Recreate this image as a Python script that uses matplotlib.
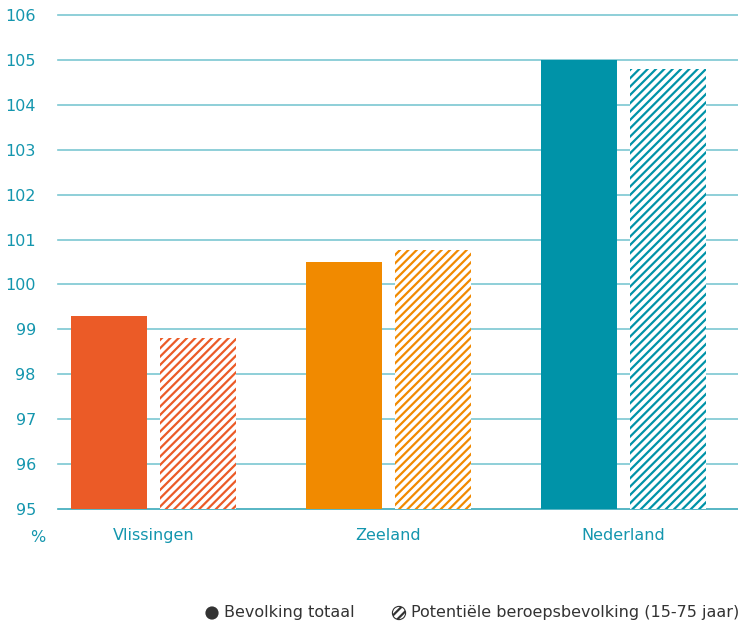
import matplotlib
matplotlib.use("Agg")
import matplotlib.pyplot as plt
from matplotlib.patches import Circle
import numpy as np

categories = ["Vlissingen", "Zeeland", "Nederland"]
bevolking_totaal = [99.3, 100.5, 105.0]
beroepsbevolking = [98.8, 100.77, 104.8]
colors = ["#EB5B27", "#F18A00", "#0093A8"]
yticks = [95, 96, 97, 98, 99, 100, 101, 102, 103, 104, 105, 106]
legend_labels = ["Bevolking totaal", "Potentiële beroepsbevolking (15-75 jaar)"]

W, H = 738, 627
plt.rcParams['hatch.linewidth'] = 1.6
plt.rcParams['font.family'] = ['DejaVu Sans']

fig = plt.figure(figsize=(W / 100, H / 100), dpi=100)
ax = fig.add_axes([58 / W, (H - 509) / H, 1 - 58 / W, (509 - 15) / H])
ax.set_axisbelow(True)

teal_text = "#1496AE"
grid_col = "#7CC7D2"

x = np.arange(len(categories))
bw = 76 / 235
off = 44.5 / 235
ax.bar(x - off, np.array(bevolking_totaal) - 95, bw, bottom=95, color=colors, linewidth=0, zorder=5)
ax.bar(x + off, np.array(beroepsbevolking) - 95, bw, bottom=95, color="white", edgecolor=colors,
       hatch="////", linewidth=0, zorder=5)

ax.set_xlim((58 - 153.5) / 235, (738 - 153.5) / 235)
ax.set_ylim(95, 106)
ax.set_yticks(yticks)
for t in yticks:
    ax.axhline(t, color=grid_col if t != 95 else "#3AA9BA", linewidth=1.2, zorder=0.5, clip_on=False)
for s in ax.spines.values():
    s.set_visible(False)
ax.tick_params(axis='y', length=0, pad=16, labelsize=11.5, labelcolor=teal_text)
ax.tick_params(axis='x', length=0, pad=14, labelsize=11.5, labelcolor=teal_text)
ax.set_xticks(x)
ax.set_xticklabels(categories)

fig.text(38 / W, 1 - 537 / H, "%", ha="center", va="center", fontsize=11.5, color=teal_text)

# legend
cy = (H - 613) / 100
fig.add_artist(Circle((212 / 100, cy), 0.066, transform=fig.dpi_scale_trans,
                      facecolor="#333333", edgecolor="#333333", linewidth=0))
fig.add_artist(Circle((399 / 100, cy), 0.066, transform=fig.dpi_scale_trans,
                      facecolor="white", edgecolor="#333333", hatch="////", linewidth=0.8))
fig.text(224 / W, 1 - 613 / H, legend_labels[0], ha="left", va="center", fontsize=11.5, color="#333333")
fig.text(411 / W, 1 - 613 / H, legend_labels[1], ha="left", va="center", fontsize=11.5, color="#333333")

fig.savefig("out.png", dpi=100)
